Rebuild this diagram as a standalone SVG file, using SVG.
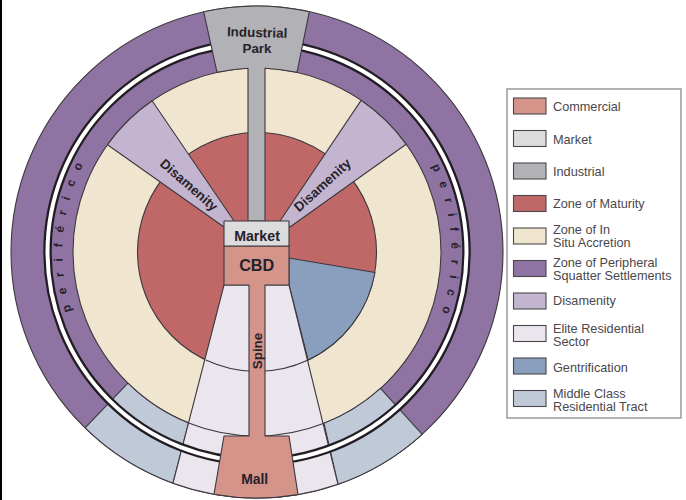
<svg xmlns="http://www.w3.org/2000/svg" width="686" height="500" viewBox="0 0 686 500">
<style>
.z{stroke:#3d383e;stroke-width:1.1;stroke-linejoin:round}
.n{fill:none}
.com{fill:#d5948a}.mkt{fill:#dddcdd}.ind{fill:#b2b1b5}.mat{fill:#bf6867}.acc{fill:#f0e6cf}.per{fill:#8f73a3}.dis{fill:#c3b5cf}.eli{fill:#ebe5ee}.gen{fill:#8a9fbe}.mid{fill:#c0c9d8}
.l{font:bold 13.4px "Liberation Sans",Arial,sans-serif;fill:#26222a;text-anchor:middle}
.p{font:bold 12px "Liberation Sans",Arial,sans-serif;fill:#26222a;letter-spacing:10.6px;text-anchor:middle}
.t{font:12.7px "Liberation Sans",Arial,sans-serif;fill:#4a484c}
.s{stroke:#4a474c;stroke-width:1.1}
</style>
<rect width="686" height="500" fill="#fff"/>
<rect width="2" height="500" fill="#000"/>
<g id="periferico-zone">
<circle class="z per" cx="257" cy="252" r="246"/>
</g>
<g id="accretion-zone"><circle class="z acc" cx="257" cy="252" r="184"/></g>
<g id="maturity-zone"><circle class="z mat" cx="257" cy="252" r="119.5"/></g>
<g id="gentrification"><path class="z gen" d="M289 258L375 272.500A119.500 119.500 0 0 1 308.100 360L289 285Z"/></g>
<g id="disamenity-left"><path class="z dis" d="M234 221L152.100 100.800A184 184 0 0 0 107.500 144.700L224 227Z"/></g>
<g id="disamenity-right"><path class="z dis" d="M280 221L361.100 100.400A184 184 0 0 1 406.100 144.200L290 227Z"/></g>
<g id="middle-class-left"><path class="z mid" d="M85.100 427.900A246 246 0 0 0 173 483.200L188.600 423A184 184 0 0 1 127.900 383.100Z"/></g>
<g id="middle-class-right"><path class="z mid" d="M338 484.300A246 246 0 0 0 422.200 434.300L380.500 388.400A184 184 0 0 1 324 423.300Z"/></g>
<g id="elite-sector">
<path class="z eli" d="M224 285L173 483.200A246 246 0 0 0 338 484.300L289 285Z"/>
<path class="z n" d="M205.900 360A119.500 119.500 0 0 0 308.100 360"/>
<path class="z n" d="M188.600 423A184 184 0 0 0 324 423.300"/>
</g>
<g id="ring">
<circle class="n" cx="257" cy="252" r="209.500" stroke="#211d22" stroke-width="8.500"/>
<circle class="n" cx="257" cy="252" r="209.500" stroke="#fff" stroke-width="4"/>
</g>
<g id="industrial-park">
<path class="z ind" d="M203.700 11.800A246 246 0 0 1 309.300 11.800L297 72.400A184 184 0 0 0 265 68.200V221H248V68.200A184 184 0 0 0 217 72.400Z"/>
<text class="l" transform="translate(257 37) rotate(1.500)">Industrial</text>
<text class="l" x="257" y="52.500">Park</text>
</g>
<g id="commercial-spine">
<path class="z com" d="M224 436L214 494.200A246 246 0 0 0 298 494.600L289 436H265V285H289V246H224V285H249V436Z"/>
<text class="l" style="font-size:16.200px" x="256.700" y="271">CBD</text>
<text class="l" style="font-size:13.900px" x="254.700" y="484">Mall</text>
<text class="l" transform="translate(261.500 351) rotate(-90)">Spine</text>
</g>
<g id="market">
<rect class="z mkt" x="224" y="221" width="65" height="25"/>
<text class="l" style="font-size:14.200px" x="257" y="241">Market</text>
</g>
<g id="labels">
<text class="l" transform="translate(186 188.500) rotate(41)">Disamenity</text>
<text class="l" transform="translate(325.500 188.500) rotate(-42)">Disamenity</text>
<path id="pl" class="n" d="M105.800 374.400A194.500 194.500 0 0 1 134.600 100.800"/>
<path id="pr" class="n" d="M388.400 108.600A194.500 194.500 0 0 1 400.400 383.400"/>
<text class="p"><textPath href="#pl" startOffset="50%">periférico</textPath></text>
<text class="p"><textPath href="#pr" startOffset="50%">periférico</textPath></text>
</g>
<g id="legend">
<rect x="507" y="89" width="174" height="329" fill="#fff" stroke="#8a8a8a" stroke-width="1.300"/>
<rect class="s com" x="513.500" y="98" width="32.500" height="16"/><text class="t" x="553" y="111">Commercial</text>
<rect class="s mkt" x="513.500" y="130.500" width="32.500" height="16"/><text class="t" x="553" y="143.500">Market</text>
<rect class="s ind" x="513.500" y="163" width="32.500" height="16"/><text class="t" x="553" y="176">Industrial</text>
<rect class="s mat" x="513.500" y="195.500" width="32.500" height="16"/><text class="t" x="553" y="208">Zone of Maturity</text>
<rect class="s acc" x="513.500" y="228" width="32.500" height="16"/><text class="t" x="553" y="234">Zone of In</text><text class="t" x="553" y="247">Situ Accretion</text>
<rect class="s per" x="513.500" y="260.500" width="32.500" height="16"/><text class="t" x="553" y="267">Zone of Peripheral</text><text class="t" x="553" y="280">Squatter Settlements</text>
<rect class="s dis" x="513.500" y="293" width="32.500" height="16"/><text class="t" x="553" y="305">Disamenity</text>
<rect class="s eli" x="513.500" y="325.500" width="32.500" height="16"/><text class="t" x="553" y="332.700">Elite Residential</text><text class="t" x="553" y="345.700">Sector</text>
<rect class="s gen" x="513.500" y="358" width="32.500" height="16"/><text class="t" x="553" y="371.700">Gentrification</text>
<rect class="s mid" x="513.500" y="390.500" width="32.500" height="16"/><text class="t" x="553" y="397.700">Middle Class</text><text class="t" x="553" y="410.700">Residential Tract</text>
</g>
</svg>
